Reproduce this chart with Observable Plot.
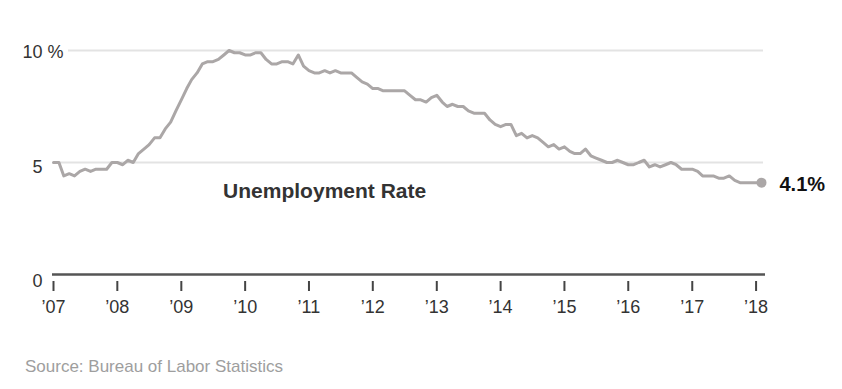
<!DOCTYPE html>
<html>
<head>
<meta charset="utf-8">
<script src="https://cdn.jsdelivr.net/npm/d3@7"></script>
<script src="https://cdn.jsdelivr.net/npm/@observablehq/plot@0.6"></script>
<style>
  html, body { margin: 0; padding: 0; background: #fff; }
  #source { font-family: "Liberation Sans", Arial, sans-serif; font-size: 17px; color: #9e9e9e;
            line-height: 20px; padding-top: 17px; margin-left: 25px; }
</style>
</head>
<body>
<div id="chart"></div>
<div id="source">Source: Bureau of Labor Statistics</div>
<script>
// Monthly unemployment rate, Jan 2007 – Feb 2018 (%)
const startYear = 2007;
const rate = [
  5.0,5.0,4.4,4.5,4.4,4.6,4.7,4.6,4.7,4.7,4.7,5.0,
  5.0,4.9,5.1,5.0,5.4,5.6,5.8,6.1,6.1,6.5,6.8,7.3,
  7.8,8.3,8.7,9.0,9.4,9.5,9.5,9.6,9.8,10.0,9.9,9.9,
  9.8,9.8,9.9,9.9,9.6,9.4,9.4,9.5,9.5,9.4,9.8,9.3,
  9.1,9.0,9.0,9.1,9.0,9.1,9.0,9.0,9.0,8.8,8.6,8.5,
  8.3,8.3,8.2,8.2,8.2,8.2,8.2,8.0,7.8,7.8,7.7,7.9,
  8.0,7.7,7.5,7.6,7.5,7.5,7.3,7.2,7.2,7.2,6.9,6.7,
  6.6,6.7,6.7,6.2,6.3,6.1,6.2,6.1,5.9,5.7,5.8,5.6,
  5.7,5.5,5.4,5.4,5.6,5.3,5.2,5.1,5.0,5.0,5.1,5.0,
  4.9,4.9,5.0,5.1,4.8,4.9,4.8,4.9,5.0,4.9,4.7,4.7,
  4.7,4.6,4.4,4.4,4.4,4.3,4.3,4.4,4.2,4.1,4.1,4.1,
  4.1,4.1
];
const yearTicks = [2007,2008,2009,2010,2011,2012,2013,2014,2015,2016,2017,2018];
const yTicks = [0, 5, 10];
const yTickLabels = ["0", "5", "10"];
const yUnit = "%";
const seriesLabel = "Unemployment Rate";
const seriesLabelAt = {date: new Date(Date.UTC(2009, 7, 28)), rate: 3.72};

const data = rate.map((r, i) => ({date: new Date(Date.UTC(startYear, i, 1)), rate: r}));
const last = data[data.length - 1];
const tickDates = yearTicks.map(y => new Date(Date.UTC(y, 0, 1)));

const lineColor = "#aba7a7";
const gridColor = "#e3e3e3";
const font = "'Liberation Sans', Arial, sans-serif";

const yLabel = (i, dy) => Plot.text([yTicks[i]], {
  y: d => d, frameAnchor: "left", text: () => yTickLabels[i],
  textAnchor: "end", dx: -11, dy, fontSize: 18, fill: "#333"
});

const chart = Plot.plot({
  width: 842,
  height: 340,
  marginLeft: 53,
  marginRight: 81,
  marginTop: 50,
  marginBottom: 59,
  insetBottom: 7,
  style: {fontFamily: font, fontSize: "18px", color: "#333", background: "#fff", overflow: "visible"},
  x: {type: "utc", domain: [data[0].date, last.date]},
  y: {domain: [0, 10], axis: null},
  marks: [
    Plot.ruleY([yTicks[2]], {y: d => d, stroke: gridColor, strokeWidth: 2, insetLeft: 15, insetRight: -2}),
    Plot.ruleY([yTicks[1]], {y: d => d, stroke: gridColor, strokeWidth: 2, insetRight: -2}),
    Plot.ruleY([yTicks[0]], {y: d => d, stroke: "#555", strokeWidth: 2.5, insetLeft: -1, insetRight: -4}),
    Plot.axisX({
      ticks: tickDates,
      tickFormat: d => "\u2019" + String(d.getUTCFullYear()).slice(2),
      tickSize: 10, tickPadding: 9, stroke: "#444", strokeWidth: 2,
      fontSize: 18, fill: "#333"
    }),
    yLabel(0, 7),
    yLabel(1, 5),
    yLabel(2, 2),
    Plot.text([yTicks[2]], {y: d => d, frameAnchor: "left", text: () => yUnit,
      textAnchor: "start", dx: -6, dy: 2, fontSize: 18, fill: "#333"}),
    Plot.lineY(data, {x: "date", y: "rate", stroke: lineColor, strokeWidth: 3, strokeLinejoin: "round"}),
    Plot.dot([last], {x: "date", y: "rate", r: 5, fill: lineColor}),
    Plot.text([last], {x: "date", y: "rate", text: d => d.rate.toFixed(1) + "%",
      textAnchor: "start", dx: 18, dy: 2, fontSize: 20, fontWeight: "bold", fill: "#111"}),
    Plot.text([seriesLabelAt], {x: "date", y: "rate", text: () => seriesLabel,
      textAnchor: "start", fontSize: 21, fontWeight: "bold", fill: "#333"})
  ]
});
document.getElementById("chart").appendChild(chart);
</script>
</body>
</html>
